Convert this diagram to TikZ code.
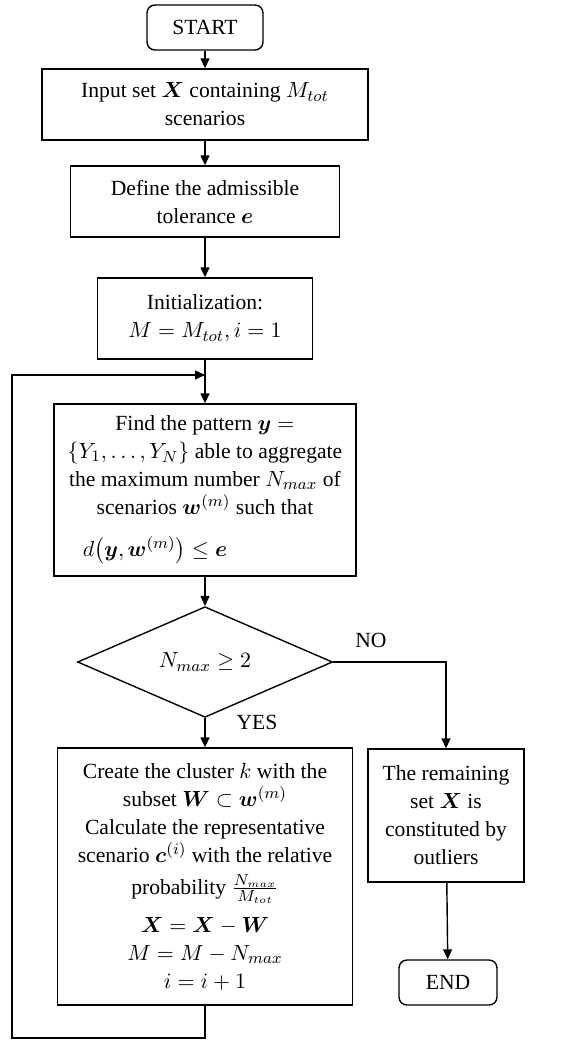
\documentclass[tikz,border=0pt]{standalone}
\usepackage{fontspec}
\setmainfont{Liberation Serif}
\usepackage{amsmath}
\usepackage{bm}
\usepackage{xcolor}
\usepackage{tikz}
\usetikzlibrary{arrows.meta,shapes.geometric}
\tikzset{
	block/.style = {draw, line width=0.7pt, align=center, inner sep=2pt},
	term/.style = {block, rounded corners=4pt},
	cond/.style = {draw, diamond, line width=0.7pt, inner sep=0pt},
	flow/.style = {line width=0.7pt, -{Triangle[length=5pt,width=4.5pt]}}
}

\begin{document}
\begin{tikzpicture}[x = 0.5pt, y = -0.5pt, font=\fontsize{10.8}{14}\selectfont]
			\useasboundingbox (0,0) rectangle (570,1040);
			\node (start) at (205,27.5) [term, minimum width=58pt, minimum height=22.5pt] {START};
			\node (input) at (205,104.5) [block, minimum width=163pt, minimum height=35.5pt] {Input set $\bm{X}$ containing $M_{tot}$\\scenarios};
			\node (tol) at (205,201.5) [block, minimum width=134.5pt, minimum height=35.5pt] {Define the admissible\\tolerance $\bm{e}$};
			\node (init) at (205,318.5) [block, minimum width=107.5pt, minimum height=40.5pt] {Initialization:\\$M = M_{tot}, i = 1$};
			\node (find) at (205,490) [block, minimum width=151pt, minimum height=86pt] {Find the pattern $\bm{y} =$\\$\{Y_1, \dots, Y_N\}$ able to aggregate\\the maximum number $N_{max}$ of\\scenarios $\bm{w}^{(m)}$ such that\\[7pt]$d\big(\bm{y}, \bm{w}^{(m)}\big) \le \bm{e}$\hspace*{50pt}};
			\node (check) at (205,662) [cond, minimum width=127.5pt, minimum height=49.5pt] {$N_{max} \ge 2$};
			\node (clust) at (205,876.5) [block, minimum width=147.5pt, minimum height=128.5pt] {Create the cluster $k$ with the\\subset $\bm{W} \subset \bm{w}^{(m)}$\\Calculate the representative\\scenario $\bm{c}^{(i)}$ with the relative\\[2pt]probability $\frac{N_{max}}{M_{tot}}$\\[5pt]$\bm{X} = \bm{X} - \bm{W}$\\$M = M - N_{max}$\\$i = i + 1$};
			\node (rest) at (446,815.5) [block, minimum width=78pt, minimum height=66.5pt] {The remaining\\set $\bm{X}$ is\\constituted by\\outliers};
			\node (end) at (448,982.5) [term, minimum width=49pt, minimum height=22.5pt] {END};
			\node (no) at (371,640) {NO};
			\node (yes) at (257,722) {YES};
			\coordinate (join) at (205,375);
			\coordinate (corner) at (12,1038);
			\draw[flow] (start) -- (input);
			\draw[flow] (input) -- (tol);
			\draw[flow] (tol) -- (init);
			\draw[flow] (init) -- (find);
			\draw[flow] (find) -- (check);
			\draw[flow] (check) -- (clust);
			\draw[flow] (check.east) -| (rest.north);
			\draw[flow] (rest) -- (end);
			\draw[flow] (clust.south) |- (corner) |- (join);
			\end{tikzpicture}
\end{document}
